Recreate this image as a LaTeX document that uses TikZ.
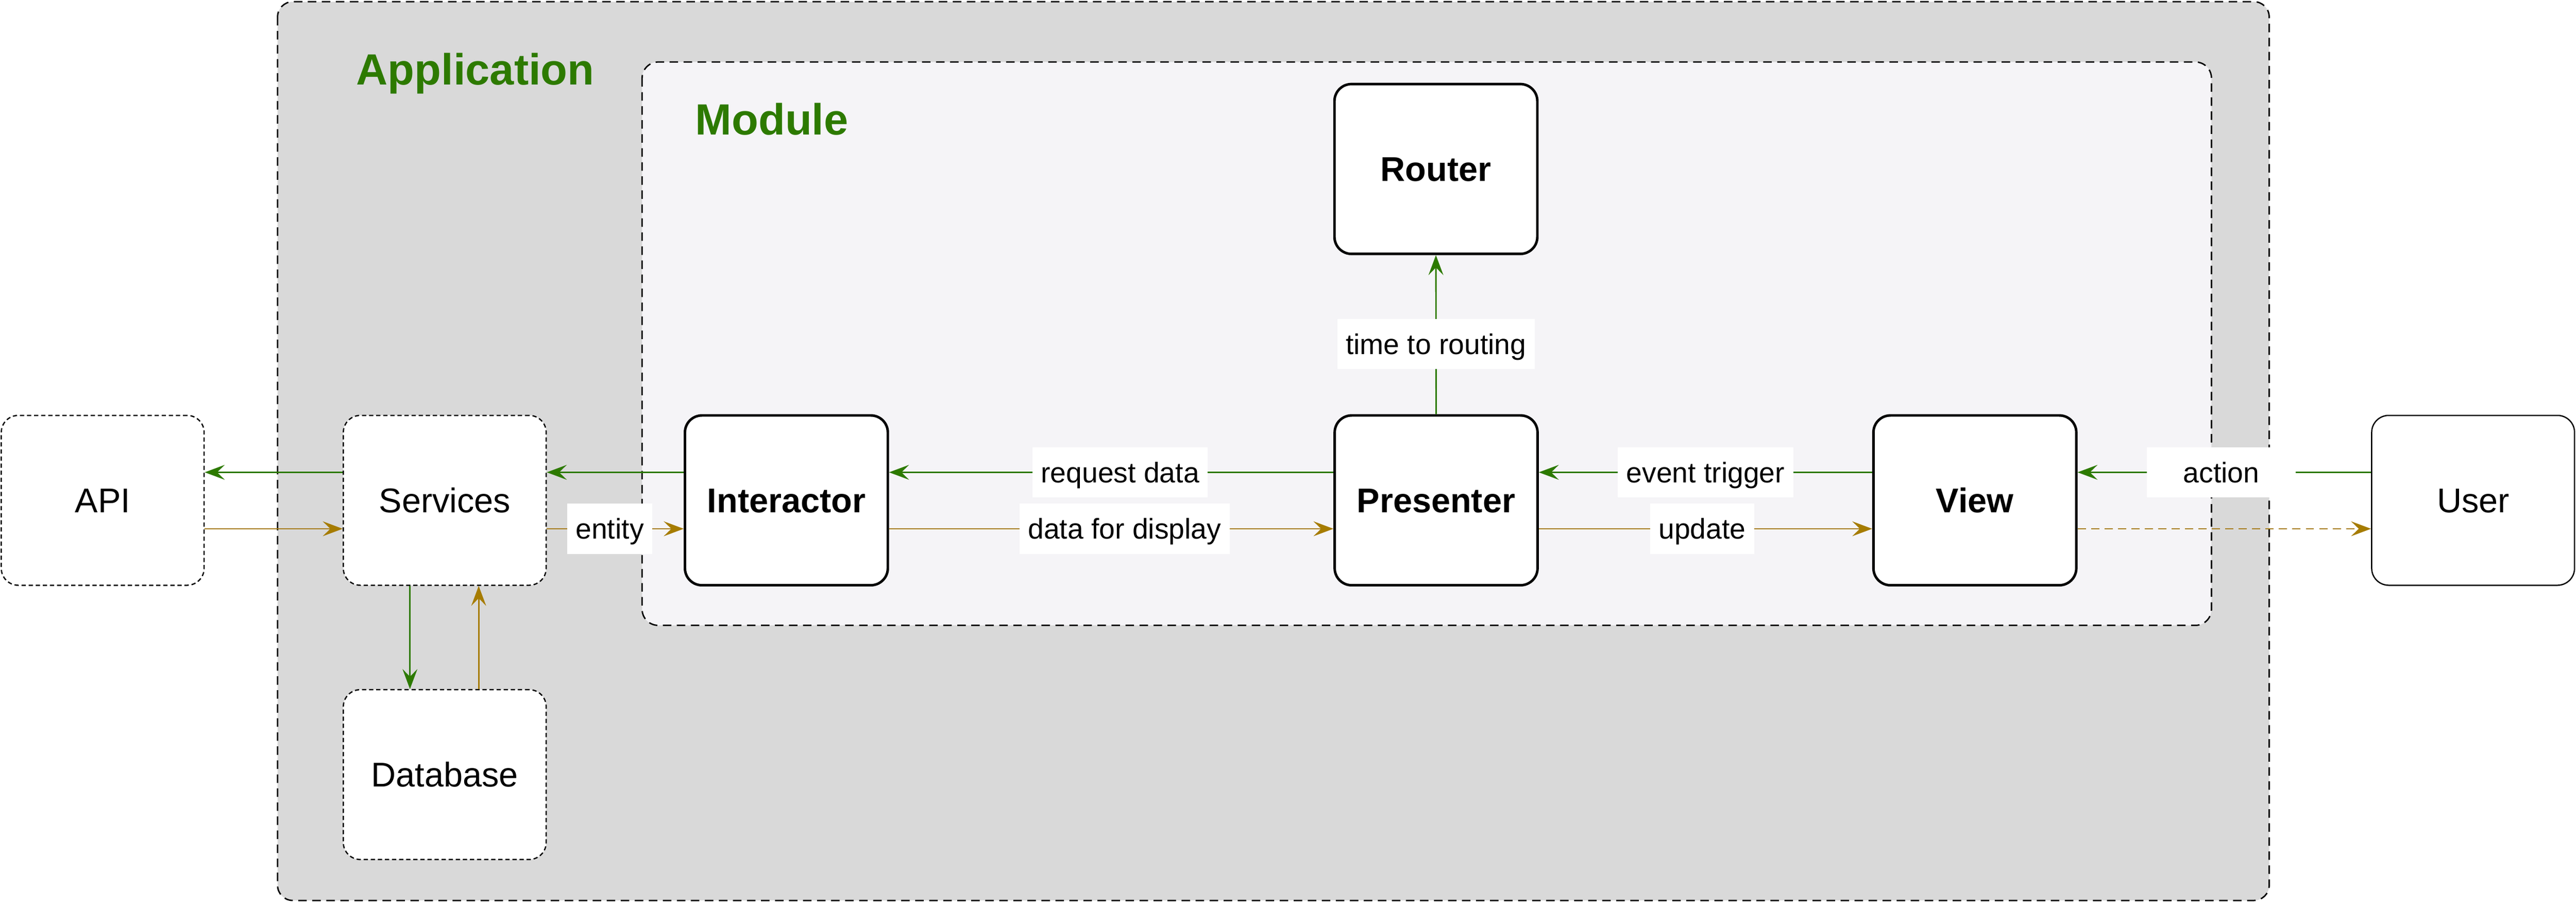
\documentclass[tikz,border=0pt]{standalone}
\usepackage{fontspec}
\setmainfont{Liberation Sans}
\usetikzlibrary{arrows.meta,positioning}
\definecolor{appgreen}{RGB}{45,122,0}
\definecolor{appgold}{RGB}{166,124,0}
\definecolor{appgray}{RGB}{217,217,217}
\definecolor{modfill}{RGB}{245,244,247}

\begin{document}
\begin{tikzpicture}[
  box/.style={rounded corners=0.4cm, fill=white, minimum width=4.78cm, minimum height=4cm,
    font=\fontsize{23}{27}\selectfont, text height=16.5pt, text depth=0pt},
  corebox/.style={box, draw, line width=1.7pt, font=\fontsize{23}{27}\selectfont\bfseries},
  outbox/.style={box, draw, line width=0.85pt, dash pattern=on 2.85pt off 1.9pt},
  userbox/.style={box, draw, line width=0.85pt},
  lbl/.style={fill=white, font=\fontsize{19.1}{23}\selectfont, text height=13.7pt, text depth=0pt,
    minimum height=1.18cm, inner xsep=0.2cm, inner ysep=0pt},
  garrow/.style={draw=appgreen, line width=1pt, -{Stealth[length=4.7mm,width=3.5mm,inset=1.8mm]}},
  yarrow/.style={garrow, draw=appgold},
  title/.style={text=appgreen, font=\fontsize{29.3}{34}\selectfont\bfseries, anchor=base west, inner sep=0pt}
]
  \useasboundingbox (0,0) rectangle (60.70,-21.29);

  % containers
  \draw[fill=appgray, line width=0.95pt, dash pattern=on 5.7pt off 3.7pt, rounded corners=0.36cm]
    (6.54,-0.04) rectangle (53.47,-21.21);
  \draw[fill=modfill, line width=0.95pt, dash pattern=on 5.7pt off 3.7pt, rounded corners=0.38cm]
    (15.13,-1.46) rectangle (52.11,-14.73);
  \node[title] (apptitle) at (8.39,-2.00) {Application};
  \node[title] (modtitle) at (16.38,-3.17) {Module};

  % boxes
  \node[outbox] (api) at (2.42,-11.785) {API};
  \node[outbox] (services) at (10.48,-11.785) {Services};
  \node[outbox, below=2.43cm of services] (database) {Database};
  \node[userbox] (user) at (58.275,-11.785) {User};
  \foreach \n/\x/\y/\t in {interactor/18.53/-11.785/Interactor, presenter/33.84/-11.785/Presenter,
      view/46.535/-11.785/View, router/33.835/-3.98/Router}
    \node[corebox] (\n) at (\x,\y) {\t};

  % connectors
  \draw[garrow] ([yshift=6.6mm]services.west) -- ([yshift=6.6mm]api.east);
  \draw[yarrow] ([yshift=-6.7mm]api.east) -- ([yshift=-6.7mm]services.west);
  \draw[garrow] ([xshift=-8.2mm]services.south) -- ([xshift=-8.2mm]database.north);
  \draw[yarrow] ([xshift=8mm]database.north) -- ([xshift=8mm]services.south);
  \draw[garrow] ([yshift=6.6mm]interactor.west) -- ([yshift=6.6mm]services.east);
  \draw[yarrow] ([yshift=-6.7mm]services.east) -- node[lbl, pos=0.46] {entity} ([yshift=-6.7mm]interactor.west);
  \draw[garrow] ([yshift=6.6mm]presenter.west) -- node[lbl, pos=0.48] {request data} ([yshift=6.6mm]interactor.east);
  \draw[yarrow] ([yshift=-6.7mm]interactor.east) -- node[lbl, pos=0.53] {data for display} ([yshift=-6.7mm]presenter.west);
  \draw[garrow] ([yshift=6.6mm]view.west) -- node[lbl] {event trigger} ([yshift=6.6mm]presenter.east);
  \draw[yarrow] ([yshift=-6.7mm]presenter.east) -- node[lbl, pos=0.49] {update} ([yshift=-6.7mm]view.west);
  \draw[garrow] ([yshift=6.6mm]user.west) -- node[lbl, pos=0.51, minimum width=3.51cm] {action} ([yshift=6.6mm]view.east);
  \draw[yarrow, dash pattern=on 5.5pt off 3.5pt] ([yshift=-6.7mm]view.east) -- ([yshift=-6.7mm]user.west);
  \draw[garrow] (presenter.north) -- node[lbl, pos=0.44] {time to routing} (router.south);
\end{tikzpicture}
\end{document}
